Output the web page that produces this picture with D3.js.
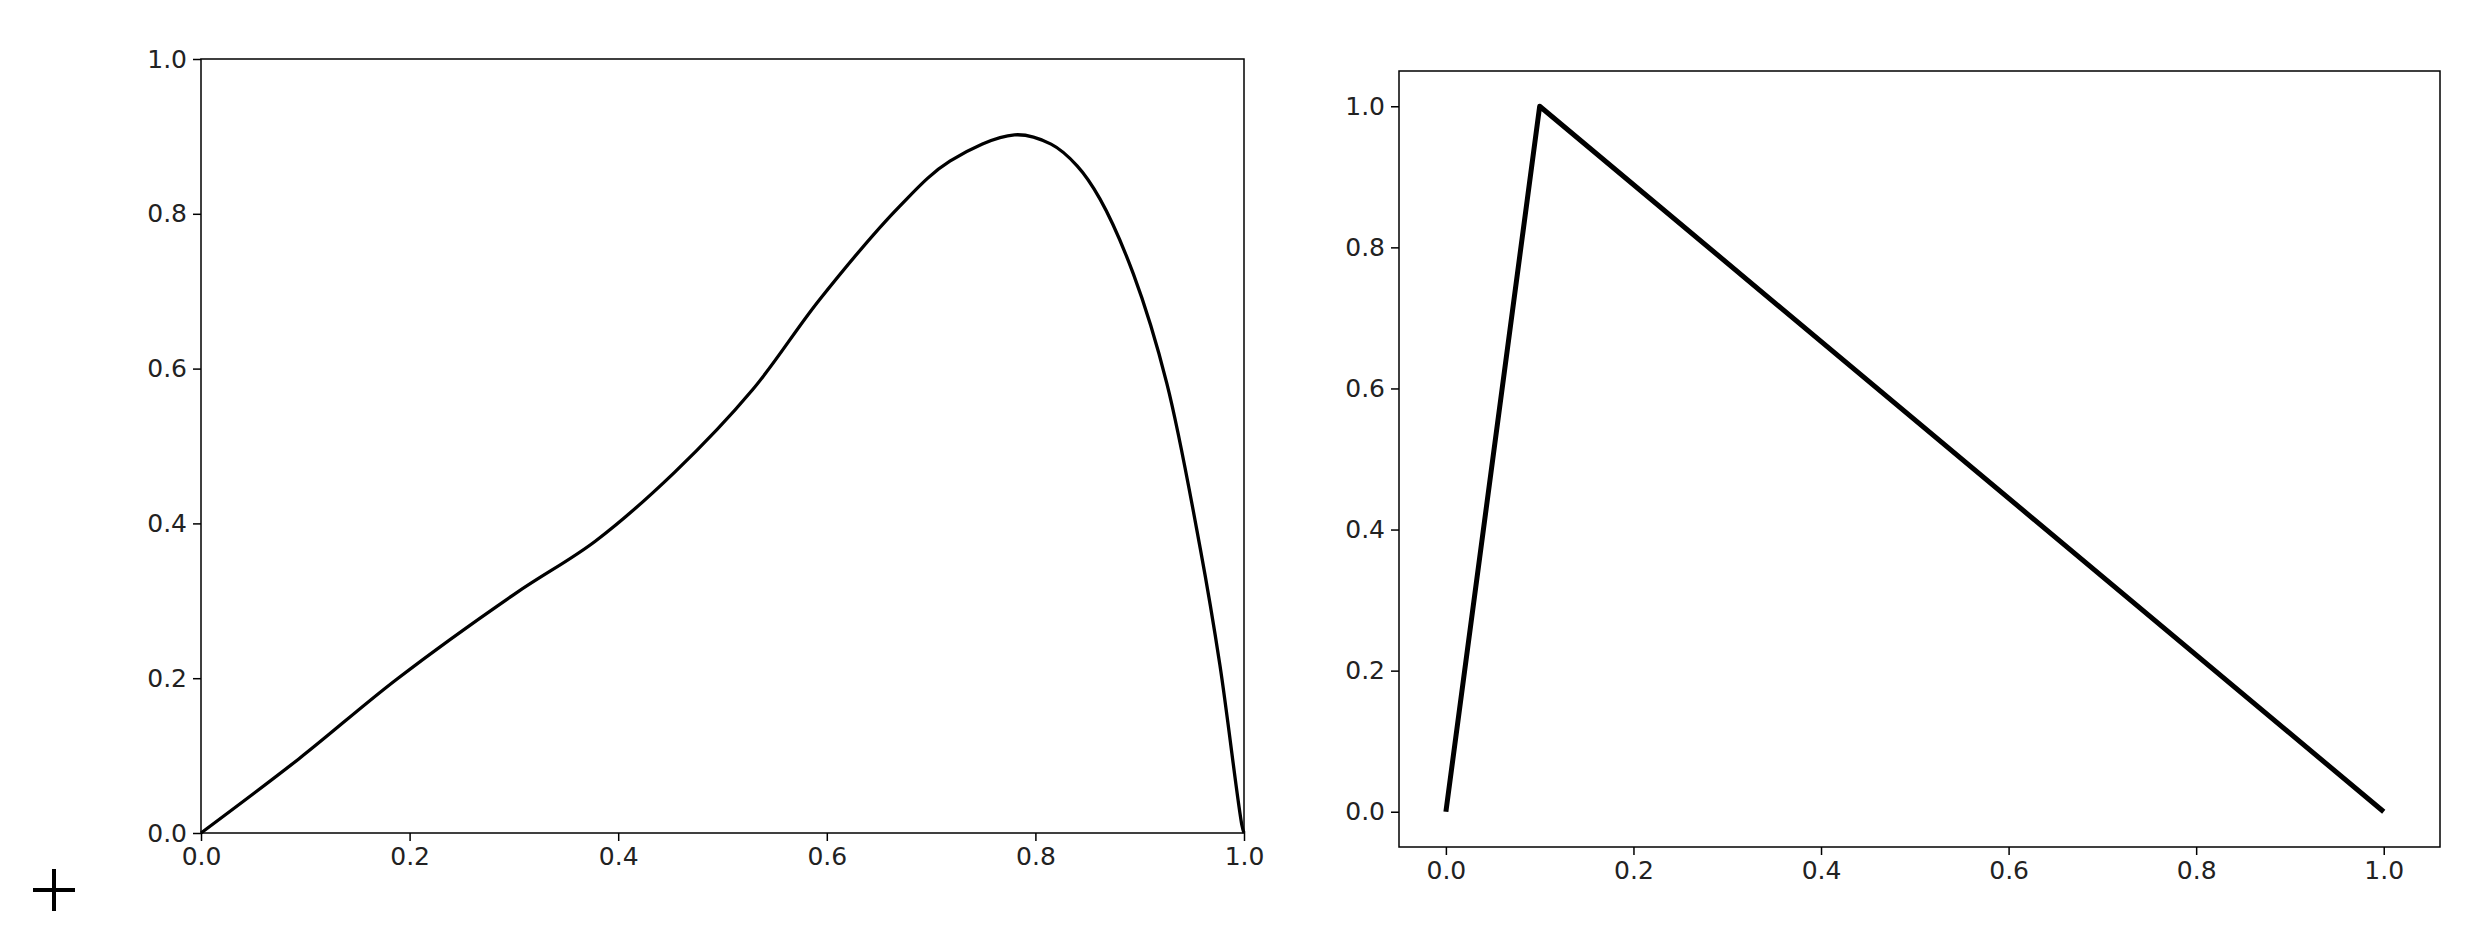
<!DOCTYPE html>
<html><head><meta charset="utf-8">
<script src="https://cdn.jsdelivr.net/npm/d3@7"></script>
<style>body{margin:0;background:#fff}text{font-family:"DejaVu Sans";}</style>
</head><body><svg id="c" width="2488" height="948"></svg>
<script>
const leftX = [0,0.094,0.188,0.302,0.378,0.454,0.529,0.593,0.670,0.718,0.780,0.815,0.840,0.862,0.894,0.926,0.958,0.977,0.998,1.0];
const leftY = [0,0.096,0.199,0.310,0.377,0.466,0.573,0.689,0.810,0.868,0.902,0.890,0.862,0.819,0.722,0.581,0.368,0.216,0.010,0];
const rightX = [0,0.1,1.0];
const rightY = [0,1.0,0];
const ticks = [0,0.2,0.4,0.6,0.8,1.0];
const svg = d3.select("#c");
const fmt = d3.format(".1f");
function panel(x0,x1,y0,y1,xd,yd,xs,ys,width,curve){
  const x=d3.scaleLinear().domain(xd).range([x0,x1]);
  const y=d3.scaleLinear().domain(yd).range([y1,y0]);
  const g=svg.append("g");
  const ax=g.append("g").attr("transform",`translate(0,${y1})`).call(d3.axisBottom(x).tickValues(ticks).tickFormat(fmt).tickSize(8).tickPadding(6));
  const ay=g.append("g").attr("transform",`translate(${x0},0)`).call(d3.axisLeft(y).tickValues(ticks).tickFormat(fmt).tickSize(8).tickPadding(6));
  [ax,ay].forEach(a=>{a.select(".domain").remove();a.selectAll("line").attr("stroke","#000").attr("stroke-width",1.5);a.selectAll("text").attr("font-size",25).attr("fill","#222").attr("font-family","DejaVu Sans");});
  const line=d3.line().x((d,i)=>x(xs[i])).y((d,i)=>y(ys[i])).curve(curve);
  g.append("path").datum(xs).attr("d",line).attr("fill","none").attr("stroke","#000").attr("stroke-width",width).attr("stroke-linejoin","round");
  g.append("rect").attr("x",x0).attr("y",y0).attr("width",x1-x0).attr("height",y1-y0).attr("fill","none").attr("stroke","#000").attr("stroke-width",1.5);
  return {x,y,g};
}
panel(201,1244,59,833,[0,1],[0,1],leftX,leftY,3.3,d3.curveCatmullRom.alpha(0.5));
panel(1399,2440,71,847,[-0.05,1.06],[-0.05,1.05],rightX,rightY,5,d3.curveLinear);
svg.append("path").attr("d","M33,890H75M54,869V911").attr("stroke","#000").attr("stroke-width",4);
</script></body></html>
